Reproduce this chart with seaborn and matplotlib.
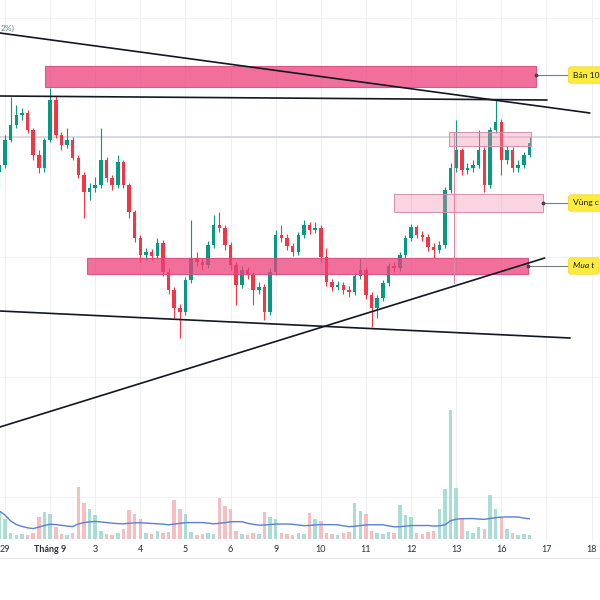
import numpy as np
import pandas as pd
import matplotlib
matplotlib.use("Agg")
import matplotlib.pyplot as plt
from matplotlib.patches import Rectangle
import seaborn as sns

sns.set_theme(style="white")
plt.rcParams["font.family"] = ["Lato", "DejaVu Sans"]

# ---------------------------------------------------------------- data
# intraday bars, price in USD
opens = [
    2514, 2517.5, 2530, 2537.5, 2542.5, 2543.5, 2535, 2522.5, 2516, 2530,
    2550, 2532.5, 2527.5, 2530, 2521, 2512.5, 2504, 2506, 2507.5, 2520,
    2511, 2507.5, 2519, 2507.5, 2494, 2481, 2472.5, 2474, 2472, 2478.5,
    2464, 2455, 2446, 2444, 2460, 2471, 2469, 2467.5, 2477.5, 2487.5,
    2486, 2477.5, 2467.5, 2457.5, 2465, 2462.5, 2455, 2456.5, 2444, 2464,
    2482.5, 2481, 2477, 2474, 2482.5, 2487.5, 2485, 2486, 2471.5, 2459,
    2456.5, 2457.5, 2455, 2454, 2462, 2465, 2452.5, 2446, 2451, 2458.5,
    2467, 2466, 2472.5, 2481, 2486.5, 2482.5, 2481.5, 2476.5, 2475, 2477.5,
    2505, 2516, 2525, 2515, 2516, 2517.5, 2525, 2507.5, 2535, 2539,
    2520, 2525, 2516, 2517.5, 2522.5,
]
highs = [
    2525, 2532.5, 2551.5, 2547.5, 2546, 2545, 2536, 2525, 2531, 2556,
    2552, 2534, 2536, 2531.5, 2522.5, 2514, 2508.5, 2511.5, 2536, 2521.5,
    2512.5, 2522.5, 2520, 2508.5, 2495, 2482.5, 2476, 2475.5, 2481, 2480,
    2466, 2456.5, 2448, 2461.5, 2490, 2474, 2471, 2479.5, 2492.5, 2494,
    2487.5, 2479, 2469, 2467, 2466.5, 2464, 2459, 2458, 2466, 2485,
    2487.5, 2483, 2478.5, 2484, 2490, 2489, 2489, 2487.5, 2476, 2460.5,
    2459.5, 2459, 2457, 2463.5, 2471, 2466.5, 2454, 2452.5, 2460, 2468.5,
    2469, 2474, 2482.5, 2488, 2487.5, 2484.5, 2483, 2478.5, 2479.5, 2506.5,
    2518.5, 2540, 2526, 2518.5, 2520, 2535, 2526.5, 2536.5, 2550, 2540.5,
    2527, 2526.5, 2520, 2524, 2531.5,
]
lows = [
    2505, 2516, 2529, 2536, 2540, 2533.5, 2520, 2513.5, 2514, 2529,
    2531, 2525, 2526, 2520, 2511, 2491, 2500, 2504, 2506, 2509,
    2505, 2506, 2506, 2491, 2479, 2469, 2470, 2470, 2471, 2462,
    2453, 2441, 2431, 2442.5, 2458.5, 2467, 2465, 2466, 2476, 2484,
    2475, 2465, 2447.5, 2456, 2460.5, 2447.5, 2453, 2440, 2442.5, 2462.5,
    2479, 2475, 2472, 2472.5, 2481, 2483, 2483.5, 2469, 2457, 2454.5,
    2455, 2453, 2451.5, 2452.5, 2460.5, 2450.5, 2436.5, 2441, 2449.5, 2457,
    2464, 2464.5, 2471, 2479.5, 2481, 2479.5, 2474.5, 2471, 2473.5, 2476,
    2503.5, 2514, 2512.5, 2513, 2514, 2516, 2504, 2506, 2533.5, 2512.5,
    2518, 2514, 2514, 2516, 2521.5,
]
closes = [
    2517.5, 2530, 2537.5, 2542.5, 2543.5, 2535, 2522.5, 2516, 2530, 2550,
    2532.5, 2527.5, 2530, 2521, 2512.5, 2504, 2506, 2507.5, 2520, 2511,
    2507.5, 2519, 2507.5, 2494, 2481, 2472.5, 2474, 2472, 2478.5, 2464,
    2455, 2446, 2444, 2460, 2471, 2469, 2467.5, 2477.5, 2487.5, 2486,
    2477.5, 2467.5, 2457.5, 2465, 2462.5, 2455, 2456.5, 2444, 2464, 2482.5,
    2481, 2477, 2474, 2482.5, 2487.5, 2485, 2486, 2471.5, 2459, 2456.5,
    2457.5, 2455, 2454, 2462, 2465, 2452.5, 2446, 2451, 2458.5, 2467,
    2466, 2472.5, 2481, 2486.5, 2482.5, 2481.5, 2476.5, 2475, 2477.5, 2505,
    2516, 2525, 2515, 2516, 2517.5, 2525, 2507.5, 2535, 2539, 2520,
    2525, 2516, 2517.5, 2522.5, 2528.5,
]
# traded volume, hundreds of lots
volumes = [
    28, 20, 6, 4, 5, 4, 6, 22, 27, 25,
    12, 5, 4, 6, 52, 36, 30, 24, 8, 5,
    4, 6, 10, 29, 25, 20, 6, 5, 8, 6,
    7, 39, 30, 25, 7, 4, 5, 6, 5, 41,
    33, 30, 8, 5, 4, 6, 5, 27, 22, 20,
    6, 5, 4, 6, 5, 26, 20, 18, 6, 5,
    4, 6, 7, 36, 28, 25, 8, 6, 5, 7,
    6, 34, 24, 22, 6, 5, 7, 8, 30, 50,
    129, 51, 20, 8, 6, 12, 10, 44, 30, 22,
    10, 6, 4, 5, 4,
]

day_labels = ["29", "Tháng 9", "3", "4", "5", "6", "9", "10", "11", "12",
              "13", "16", "17", "18"]
day_bars = [1, 9, 17, 25, 33, 41, 49, 57, 65, 73, 81, 89, 97, 105]

last_price = 2531.5
pct_change = "2%)"

# drawn trend lines: (bar_start, price_start, bar_end, price_end)
trend_lines = [
    (0.1, 2583.5, 104.7, 2543.5),
    (0.1, 2552.0, 97.1, 2550.0),
    (0.1, 2444.5, 101.2, 2431.0),
    (0.1, 2386.5, 96.7, 2471.0),
]
# zones: (bar_left, bar_right, price_low, price_high, strong)
zones = [
    (8.1, 95.1, 2556.5, 2567.0, True),
    (79.7, 94.3, 2527.0, 2534.0, False),
    (70.0, 96.4, 2494.0, 2503.0, False),
    (15.5, 93.7, 2463.0, 2471.0, True),
]
zone_notes = [
    (95.1, 2562.5, "Bán 10", "normal"),
    (96.4, 2498.5, "Vùng c", "normal"),
    (93.7, 2467.0, "Mua t", "italic"),
]
marker_bar, marker_top, marker_bottom = 80.6, 2534.0, 2458.5

# ---------------------------------------------------------------- figure
fig = plt.figure(figsize=(6, 6), dpi=100, facecolor="white")
ax = fig.add_axes([0, 0, 1, 1])
vax = fig.add_axes([0, 61 / 600, 1, 150 / 600], sharex=ax)

x_left, x_right = 0.1135, 106.5
ax.set_xlim(x_left, x_right)
ax.set_ylim(2300, 2600)
ax.set_axis_off()

# grid
for d in day_bars:
    ax.plot([d, d], [2330, 2600], color="#eef0f4", lw=0.8, zorder=0)
for p in [2591.0, 2471.5, 2411.5, 2351.5]:
    ax.axhline(p, color="#f0f2f6", lw=0.8, zorder=0)
ax.axhline(2321, color="#e6e8ee", lw=0.8, zorder=0)
ax.axhline(last_price, color="#d6d8de", lw=1.3, zorder=1)

# candles
o = np.array(opens)
h = np.array(highs)
l = np.array(lows)
c = np.array(closes)
idx = np.arange(len(c))
up = c >= o
GREEN, RED = "#089981", "#f23645"
cols = np.where(up, GREEN, RED)
ax.vlines(idx, l, h, colors=cols, lw=0.8, zorder=3)
ax.bar(idx, np.maximum(np.abs(c - o), 0.5), bottom=np.minimum(o, c),
       width=0.62, color=cols, linewidth=0, zorder=3)

# zones
for x0, x1, p0, p1, strong in zones:
    if strong:
        fc, ec = (0.925, 0.25, 0.478, 0.75), (0.85, 0.30, 0.50, 0.9)
    else:
        fc, ec = (0.957, 0.56, 0.69, 0.38), (0.82, 0.55, 0.68, 0.9)
    ax.add_patch(Rectangle((x0, p0), x1 - x0, p1 - p0, facecolor=fc,
                           edgecolor=ec, lw=0.8, zorder=4))
ax.plot([marker_bar, marker_bar], [marker_bottom, marker_top],
        color="#d98aa0", lw=0.8, zorder=4)

# trend lines
for x0, p0, x1, p1 in trend_lines:
    ax.plot([x0, x1], [p0, p1], color="#131722", lw=1.2, zorder=5,
            solid_capstyle="round")

# zone notes
label_left = 100.8
for xr, p, txt, style in zone_notes:
    ax.plot([xr, label_left], [p, p], color="#787b86", lw=0.8, zorder=5)
    ax.plot([xr], [p], marker="o", ms=1.8, color="#434651", zorder=6)
    ax.text(label_left + 0.95, p, txt, fontsize=6.1, style=style,
            color="#131722", ha="left", va="center", zorder=7,
            bbox=dict(boxstyle="round,pad=0.55,rounding_size=0.3",
                      facecolor="#ffeb3b", edgecolor="#f2d82a", lw=0.6))

ax.text(0.3, 2586, pct_change, fontsize=6, color="#5d8f88",
        ha="left", va="center", zorder=7)

# volume pane
vol_cols = np.where(up, "#9ad8ce", "#f6b3b8")
vax.bar(idx, volumes, width=0.62, color=vol_cols, alpha=0.85,
        linewidth=0, zorder=2)
vol_ma = pd.Series(volumes, dtype=float).rolling(30, min_periods=1).mean()
sns.lineplot(x=idx, y=vol_ma.values, ax=vax, color="#5b7fd6", lw=1.0,
             zorder=3)
vax.set_ylim(0, 150)
vax.set_xlim(x_left, x_right)
vax.patch.set_alpha(0)
for s in vax.spines.values():
    s.set_visible(False)
vax.set_yticks([])
vax.set_xticks(day_bars)
vax.set_xticklabels(day_labels, fontsize=6.5, color="#2a2e39")
for t in vax.get_xticklabels():
    if not t.get_text().isdigit():
        t.set_fontweight("bold")
vax.tick_params(axis="x", length=0, pad=4)
vax.set_xlabel("")
vax.set_ylabel("")
vax.grid(False)

fig.savefig("out.png", dpi=100, facecolor="white")
